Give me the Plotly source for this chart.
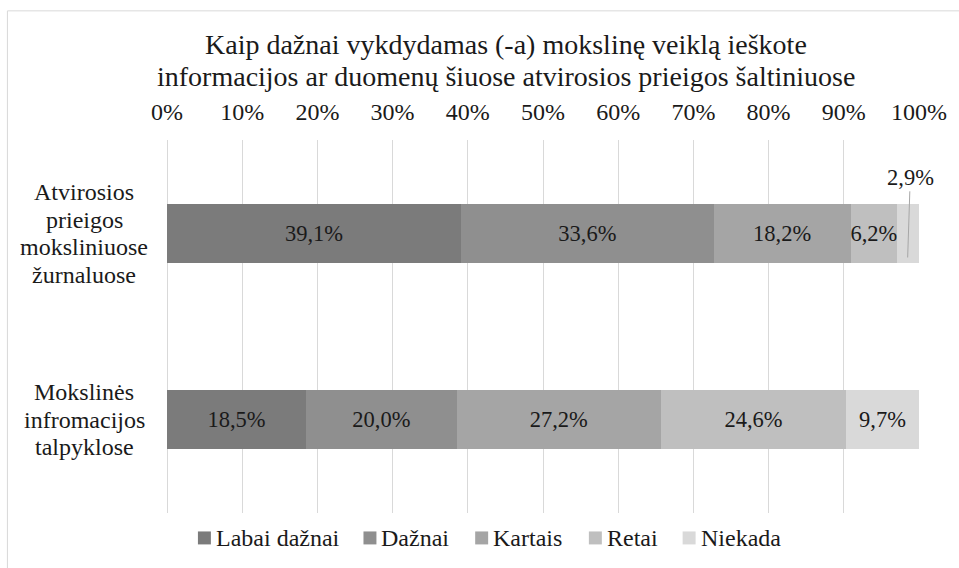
import plotly.graph_objects as go

# ---- data ----
category_lines = [
    ["Atvirosios", "prieigos", "moksliniuose", "žurnaluose"],
    ["Mokslinės", "infromacijos", "talpyklose"],
]
categories = [" ".join(c) for c in category_lines]
series_names = ["Labai dažnai", "Dažnai", "Kartais", "Retai", "Niekada"]
labai_daznai = [39.1, 18.5]
daznai = [33.6, 20.0]
kartais = [18.2, 27.2]
retai = [6.2, 24.6]
niekada = [2.9, 9.7]
series_values = [labai_daznai, daznai, kartais, retai, niekada]
colors = ["#7b7b7b", "#8f8f8f", "#a5a5a5", "#bfbfbf", "#d9d9d9"]
tick_vals = [0, 10, 20, 30, 40, 50, 60, 70, 80, 90, 100]
tick_text = [f"{v}%" for v in tick_vals]
title_lines = ["Kaip dažnai vykdydamas (-a) mokslinę veiklą ieškote",
               "informacijos ar duomenų šiuose atvirosios prieigos šaltiniuose"]

FONT = "Liberation Serif"
TXT = "#1a1a1a"
W, H = 959, 568
L, R, T, B = 167, 38, 139.5, 54.5
PW, PH = W - L - R, H - T - B


def px_x(px):
    return (px - L) / PW


def px_y(py):
    return (H - B - py) / PH


def fmt(v):
    return f"{v:.1f}".replace(".", ",") + "%"


fig = go.Figure()
for name, vals, col in zip(series_names, series_values, colors):
    texts = [fmt(v) for v in vals]
    if name == "Niekada":
        texts[0] = ""  # shown with a leader line instead
    fig.add_trace(go.Bar(
        name=name, y=categories, x=vals, orientation="h",
        marker=dict(color=col, line=dict(width=0)),
        text=texts, textposition="inside", insidetextanchor="middle",
        textangle=0, constraintext="none",
        textfont=dict(family=FONT, size=22.5, color=TXT),
        hoverinfo="x+name", showlegend=False,
    ))

# leader-line label for the small segment
start = sum(v[0] for v in series_values[:-1])
fig.add_annotation(
    x=start + niekada[0] * 0.48, y=0.13, xref="x", yref="y",
    ax=start + niekada[0] * 0.6, ay=-0.3, axref="x", ayref="y",
    text=fmt(niekada[0]), showarrow=True, arrowhead=0, arrowwidth=1,
    arrowcolor="#a6a6a6",
    font=dict(family=FONT, size=22.5, color=TXT),
)

# title (two lines, centred over the chart area)
for i, line in enumerate(title_lines):
    fig.add_annotation(x=px_x(507), y=px_y(44 + i * 31.5), xref="paper", yref="paper",
                       text=line, showarrow=False, xanchor="center", yanchor="middle",
                       font=dict(family=FONT, size=28, color=TXT))

# multi-line centered category labels
for ci, lines in enumerate(category_lines):
    n = len(lines)
    for li, line in enumerate(lines):
        fig.add_annotation(
            x=px_x(84), xref="paper", y=ci, yref="y",
            yshift=-(li - (n - 1) / 2) * 27.5,
            text=line, showarrow=False, xanchor="center", yanchor="middle",
            font=dict(family=FONT, size=24, color=TXT),
        )

# legend drawn manually (square swatch + label)
legend_px = [198, 364, 476, 590, 684]
for name, col, lx in zip(series_names, colors, legend_px):
    fig.add_shape(type="rect", xref="paper", yref="paper",
                  x0=px_x(lx), x1=px_x(lx + 13), y0=px_y(545), y1=px_y(532),
                  fillcolor=col, line=dict(width=0))
    fig.add_annotation(x=px_x(lx + 16), y=px_y(539), xref="paper", yref="paper",
                       text=name, showarrow=False, xanchor="left", yanchor="middle",
                       font=dict(family=FONT, size=24, color=TXT))

# chart border (left & top visible)
fig.add_shape(type="rect", xref="paper", yref="paper",
              x0=px_x(7), x1=px_x(1000), y0=px_y(620), y1=px_y(10),
              line=dict(color="#d9d9d9", width=1), layer="below")

fig.update_layout(
    width=W, height=H,
    margin=dict(l=L, r=R, t=T, b=B),
    barmode="stack", bargap=0.685,
    plot_bgcolor="white", paper_bgcolor="white",
    font=dict(family=FONT, size=24, color=TXT),
    xaxis=dict(side="top", range=[0, 100], tickvals=tick_vals, ticktext=tick_text,
               showgrid=True, gridcolor="#d9d9d9", gridwidth=1,
               zeroline=True, zerolinecolor="#d9d9d9", zerolinewidth=1,
               showline=False, ticks="", ticklabelstandoff=14,
               tickfont=dict(family=FONT, size=24, color=TXT), fixedrange=True),
    yaxis=dict(autorange="reversed", showticklabels=False, showgrid=False,
               zeroline=False, showline=False, ticks=""),
    showlegend=False,
)

fig.write_html("out.html")
